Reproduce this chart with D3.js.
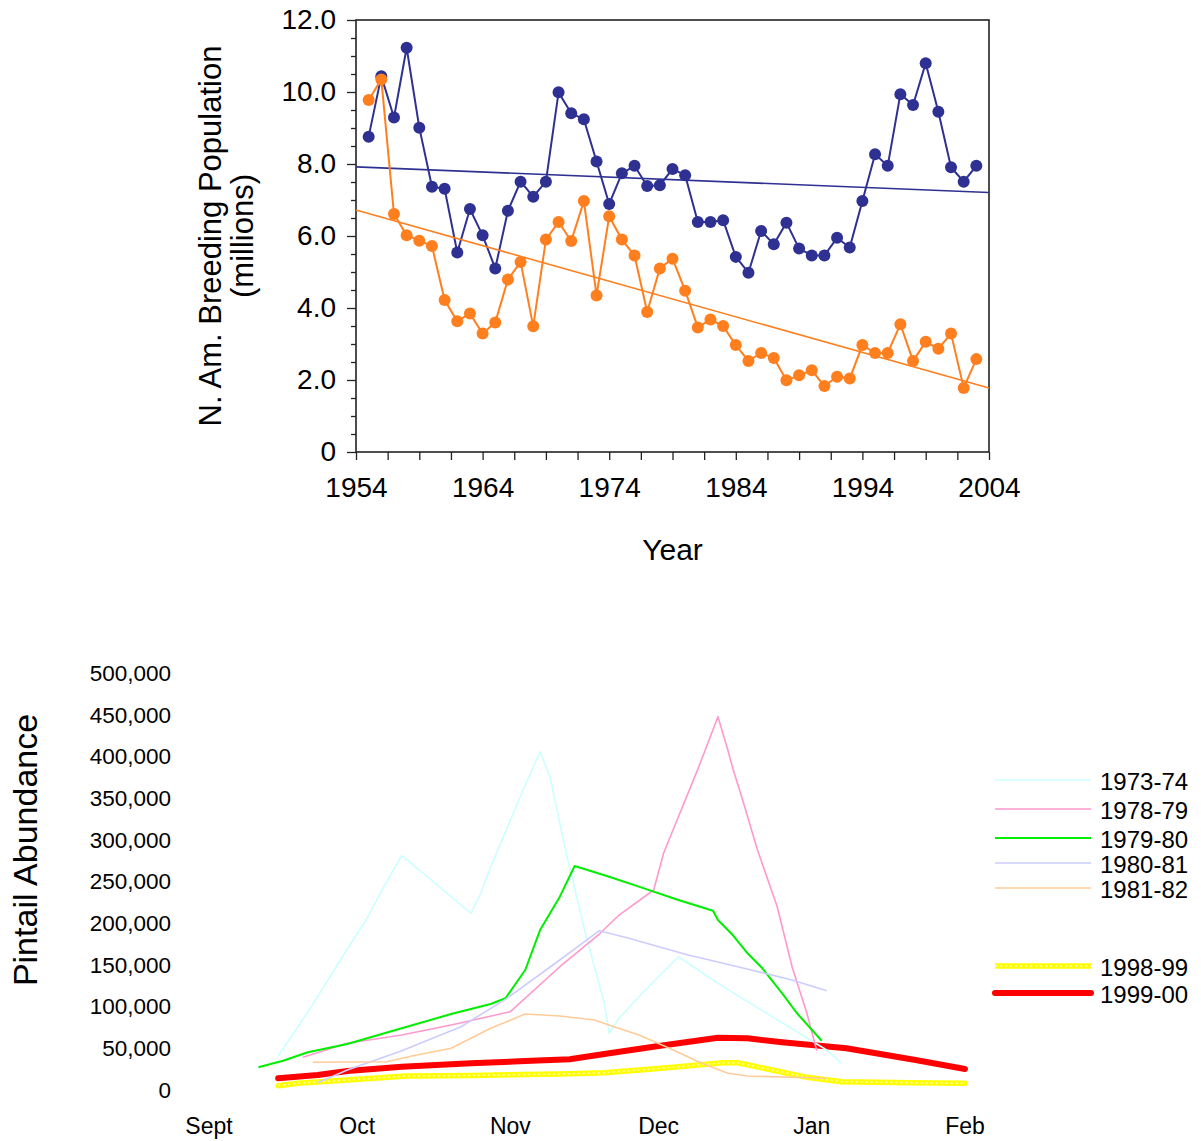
<!DOCTYPE html>
<html>
<head>
<meta charset="utf-8">
<script src="https://cdn.jsdelivr.net/npm/d3@7"></script>
<style>
  html, body { margin: 0; padding: 0; background: #fff; }
  svg { display: block; font-family: "Liberation Sans", Arial, sans-serif; }
</style>
</head>
<body>
<svg id="chart" width="1201" height="1141"></svg>
<script>
// ---- Breeding population survey (millions), 1955-2003 ----
const surveyYears = d3.range(1955, 2004);
const mallardPop = [8.76, 10.44, 9.29, 11.23, 9.01, 7.37, 7.31, 5.54, 6.75, 6.02,
                    5.10, 6.70, 7.51, 7.09, 7.51, 9.99, 9.41, 9.24, 8.07, 6.89,
                    7.74, 7.95, 7.39, 7.41, 7.86, 7.69, 6.39, 6.39, 6.44, 5.42,
                    4.98, 6.14, 5.77, 6.37, 5.65, 5.46, 5.46, 5.95, 5.68, 6.97,
                    8.27, 7.95, 9.94, 9.64, 10.80, 9.45, 7.91, 7.51, 7.95];
const pintailPop = [9.78, 10.35, 6.61, 6.02, 5.87, 5.72, 4.22, 3.63, 3.85, 3.29,
                    3.60, 4.79, 5.28, 3.49, 5.90, 6.39, 5.86, 6.97, 4.35, 6.55,
                    5.90, 5.46, 3.89, 5.10, 5.37, 4.48, 3.46, 3.68, 3.50, 2.97,
                    2.53, 2.75, 2.61, 1.99, 2.13, 2.27, 1.83, 2.09, 2.04, 2.97,
                    2.75, 2.75, 3.55, 2.53, 3.06, 2.87, 3.29, 1.78, 2.58];
// linear trend lines: value at first and last year of the axis
const trendYears = [1954, 2004];
const mallardTrend = [7.92, 7.21];
const pintailTrend = [6.72, 1.78];
const popTicks = [0, 2, 4, 6, 8, 10, 12];
const yearTicks = [1954, 1964, 1974, 1984, 1994, 2004];

// ---- Wintering pintail counts by season (date "MM-DD", birds) ----
const seasonNames = ["1973-74", "1978-79", "1979-80", "1980-81", "1981-82", "1998-99", "1999-00"];
const s1973 = [["09-15", 40800], ["09-19", 75900], ["09-23", 111900], ["09-28", 159800], ["10-03", 205900],
               ["10-06", 239800], ["10-10", 281000], ["10-16", 251800], ["10-24", 211900], ["10-26", 235900],
               ["10-28", 267700], ["11-01", 323700], ["11-04", 365700], ["11-07", 405600], ["11-09", 375700],
               ["11-12", 291700], ["11-16", 191800], ["11-20", 104000], ["11-21", 68000], ["11-23", 86000],
               ["11-27", 111900], ["12-01", 135800], ["12-05", 159800], ["12-13", 127900], ["12-24", 87900],
               ["01-04", 48000], ["01-07", 32000]];
const s1978 = [["09-20", 39200], ["09-29", 56000], ["10-10", 65900], ["10-20", 77900], ["11-01", 93900],
               ["11-11", 147800], ["11-19", 187000], ["11-23", 209800], ["11-30", 239800], ["12-02", 283800],
               ["12-05", 327700], ["12-09", 385700], ["12-13", 447600], ["12-15", 407700], ["12-16", 385700],
               ["12-18", 347700], ["12-21", 287800], ["12-25", 219800], ["12-28", 147800], ["12-31", 92000],
               ["01-02", 47100]];
const s1979 = [["09-11", 27200], ["09-16", 35100], ["09-21", 45200], ["09-29", 55200], ["10-10", 74000],
               ["10-20", 91100], ["10-28", 103100], ["10-31", 110000], ["11-04", 143900], ["11-07", 191800],
               ["11-11", 231800], ["11-14", 268600], ["11-21", 255700], ["11-27", 243800], ["12-05", 227800],
               ["12-12", 215000], ["12-13", 203800], ["12-16", 185800], ["12-19", 163900], ["12-22", 145900],
               ["12-26", 115900], ["12-29", 92000], ["01-03", 59100]];
const s1980 = [["09-23", 8800], ["09-29", 24000], ["10-10", 47100], ["10-20", 71100], ["10-22", 75900],
               ["10-31", 108700], ["11-11", 155900], ["11-19", 191000], ["11-25", 181900], ["12-01", 171800],
               ["12-07", 161900], ["12-17", 147800], ["12-28", 131900], ["01-04", 119100]];
const s1981 = [["09-22", 33200], ["10-07", 33900], ["10-13", 42000], ["10-20", 50000], ["10-28", 74000],
               ["11-04", 91100], ["11-11", 88700], ["11-18", 83900], ["11-22", 75900], ["11-27", 65900],
               ["12-04", 48000], ["12-09", 33900], ["12-15", 20000], ["12-19", 16800], ["01-04", 14000]];
const s1998 = [["09-15", 5200], ["09-19", 8000], ["09-29", 12000], ["10-11", 16800], ["10-24", 17400],
               ["11-11", 19200], ["11-20", 20700], ["12-01", 25800], ["12-05", 27900], ["12-14", 32700],
               ["12-17", 32700], ["12-24", 24000], ["12-31", 15200], ["01-07", 10000], ["01-21", 8800],
               ["02-01", 8000]];
const s1999 = [["09-15", 14000], ["09-23", 18000], ["09-29", 22800], ["10-10", 27900], ["10-24", 32000],
               ["11-04", 34800], ["11-13", 36800], ["11-21", 44000], ["12-01", 52800], ["12-05", 56000],
               ["12-13", 62700], ["12-19", 62000], ["12-26", 57200], ["01-08", 50000], ["01-22", 36000],
               ["02-01", 25200]];
const abundanceTicks = [0, 50000, 100000, 150000, 200000, 250000, 300000, 350000, 400000, 450000, 500000];
const monthLabels = ["Sept", "Oct", "Nov", "Dec", "Jan", "Feb"];

// ------------------------------------------------------------------
const svg = d3.select("#chart");
const FONT = '"Liberation Sans", Arial, sans-serif';

// ===== Upper panel: breeding population =====
const pane1 = { left: 356, right: 989, top: 20, bottom: 452 };
const x1 = d3.scaleLinear().domain([1954, 2004]).range([pane1.left, pane1.right]);
const y1 = d3.scaleLinear().domain([0, 12]).range([pane1.bottom, pane1.top]);

const gTop = svg.append("g");

// minor ticks
const minorY = d3.range(0, 12.01, 0.5).filter(v => !popTicks.includes(v));
const minorX = d3.range(1954, 2004.01, 2.5).filter(v => !yearTicks.includes(v));

const yAxisMinor = d3.axisLeft(y1).tickValues(minorY).tickSize(5).tickFormat("");
const xAxisMinor = d3.axisBottom(x1).tickValues(minorX).tickSize(8).tickFormat("");
gTop.append("g").attr("transform", `translate(${pane1.left},0)`).call(yAxisMinor)
  .call(g => g.select(".domain").remove());
gTop.append("g").attr("transform", `translate(0,${pane1.bottom})`).call(xAxisMinor)
  .call(g => g.select(".domain").remove());

const yAxis = d3.axisLeft(y1).tickValues(popTicks).tickSize(9).tickPadding(11)
  .tickFormat(d => d === 0 ? "0" : d3.format(".1f")(d));
const xAxis = d3.axisBottom(x1).tickValues(yearTicks).tickSize(8).tickFormat(d3.format("d"));

gTop.append("g").attr("transform", `translate(${pane1.left},0)`).call(yAxis)
  .call(g => g.select(".domain").remove())
  .call(g => g.selectAll("text").attr("font-size", 28).attr("font-family", FONT).attr("fill", "#000"));
gTop.append("g").attr("transform", `translate(0,${pane1.bottom})`).call(xAxis)
  .call(g => g.select(".domain").remove())
  .call(g => g.selectAll("text").attr("font-size", 28).attr("font-family", FONT).attr("fill", "#000")
    .attr("dy", null).attr("y", 45));
gTop.selectAll(".tick line").attr("stroke", "#222").attr("stroke-width", 1.3);

// frame
gTop.append("rect")
  .attr("x", pane1.left).attr("y", pane1.top)
  .attr("width", pane1.right - pane1.left).attr("height", pane1.bottom - pane1.top)
  .attr("fill", "none").attr("stroke", "#222").attr("stroke-width", 1.6);

// titles
gTop.append("text")
  .attr("transform", `translate(221,${(pane1.top + pane1.bottom) / 2}) rotate(-90)`)
  .attr("text-anchor", "middle").attr("font-size", 31).attr("font-family", FONT)
  .text("N. Am. Breeding Population");
gTop.append("text")
  .attr("transform", `translate(253,${(pane1.top + pane1.bottom) / 2}) rotate(-90)`)
  .attr("text-anchor", "middle").attr("font-size", 31).attr("font-family", FONT)
  .text("(millions)");
gTop.append("text")
  .attr("x", (pane1.left + pane1.right) / 2).attr("y", 560)
  .attr("text-anchor", "middle").attr("font-size", 30).attr("font-family", FONT)
  .text("Year");

const popSeries = [
  { values: mallardPop, trend: mallardTrend, color: "#2e3192" },
  { values: pintailPop, trend: pintailTrend, color: "#ff7f1f" }
];
const line1 = d3.line().x(d => x1(d[0])).y(d => y1(d[1]));

popSeries.forEach(s => {
  const pts = surveyYears.map((yr, i) => [yr, s.values[i]]);
  gTop.append("path")
    .attr("d", line1(trendYears.map((yr, i) => [yr, s.trend[i]])))
    .attr("fill", "none").attr("stroke", s.color).attr("stroke-width", 1.6);
  gTop.append("path")
    .attr("d", line1(pts))
    .attr("fill", "none").attr("stroke", s.color).attr("stroke-width", 2);
  gTop.append("g").selectAll("circle").data(pts).join("circle")
    .attr("cx", d => x1(d[0])).attr("cy", d => y1(d[1])).attr("r", 6)
    .attr("fill", s.color);
});

// ===== Lower panel: wintering abundance =====
const parseSeasonDate = s => {
  const [m, d] = s.split("-").map(Number);
  return new Date(m >= 8 ? 1999 : 2000, m - 1, d);
};
const x2 = d3.scaleTime()
  .domain([new Date(1999, 8, 1), new Date(2000, 1, 1)])
  .range([209, 965]);
const y2 = d3.scaleLinear().domain([0, 500000]).range([1090, 673]);

const gBot = svg.append("g");

// y labels
gBot.append("g").selectAll("text").data(abundanceTicks).join("text")
  .attr("x", 171).attr("y", d => y2(d)).attr("dy", "0.35em")
  .attr("text-anchor", "end").attr("font-size", 22.5).attr("font-family", FONT)
  .text(d => d3.format(",")(d));

// month labels
const monthDates = d3.timeMonth.range(new Date(1999, 8, 1), new Date(2000, 1, 2));
gBot.append("g").selectAll("text").data(monthDates).join("text")
  .attr("x", d => x2(d)).attr("y", 1134)
  .attr("text-anchor", "middle").attr("font-size", 23).attr("font-family", FONT)
  .text((d, i) => monthLabels[i]);

gBot.append("text")
  .attr("transform", "translate(37,850) rotate(-90)")
  .attr("text-anchor", "middle").attr("font-size", 34).attr("font-family", FONT)
  .text("Pintail Abundance");

const seasons = [
  { name: seasonNames[0], data: s1973, color: "#ccffff", width: 1.6 },
  { name: seasonNames[1], data: s1978, color: "#ff99cc", width: 1.6 },
  { name: seasonNames[2], data: s1979, color: "#00ee00", width: 2 },
  { name: seasonNames[3], data: s1980, color: "#ccccff", width: 1.6 },
  { name: seasonNames[4], data: s1981, color: "#ffcc99", width: 1.6 },
  { name: seasonNames[5], data: s1998, color: "#ffff00", width: 5.5, dotted: true },
  { name: seasonNames[6], data: s1999, color: "#ff0000", width: 6 }
];

const line2 = d3.line()
  .x(d => x2(parseSeasonDate(d[0])))
  .y(d => y2(d[1]));

// heavy recent seasons underneath, thin historic seasons on top
const drawOrder = [5, 6, 0, 1, 2, 3, 4];
drawOrder.forEach(i => {
  const s = seasons[i];
  gBot.append("path")
    .attr("d", line2(s.data))
    .attr("fill", "none").attr("stroke", s.color).attr("stroke-width", s.width)
    .attr("stroke-linejoin", "round").attr("stroke-linecap", s.width > 4 ? "round" : "butt");
  if (s.dotted) {
    gBot.append("path")
      .attr("d", line2(s.data))
      .attr("fill", "none").attr("stroke", "#ffffb0").attr("stroke-width", 1.6)
      .attr("stroke-dasharray", "2 3");
  }
});

// legend
const legendRowY = [780, 809, 838, 863, 888, 966, 993];
const gLeg = gBot.append("g");
seasons.forEach((s, i) => {
  const yy = legendRowY[i];
  gLeg.append("line")
    .attr("x1", 995).attr("x2", 1091).attr("y1", yy).attr("y2", yy)
    .attr("stroke", s.color).attr("stroke-width", s.width)
    .attr("stroke-linecap", s.width >= 6 ? "round" : "butt");
  if (s.dotted) {
    gLeg.append("line")
      .attr("x1", 995).attr("x2", 1091).attr("y1", yy).attr("y2", yy)
      .attr("stroke", "#ffffb0").attr("stroke-width", 1.6).attr("stroke-dasharray", "2 3");
  }
  gLeg.append("text")
    .attr("x", 1100).attr("y", yy + 2).attr("dy", "0.35em")
    .attr("font-size", 24).attr("font-family", FONT)
    .text(s.name);
});
</script>
</body>
</html>
